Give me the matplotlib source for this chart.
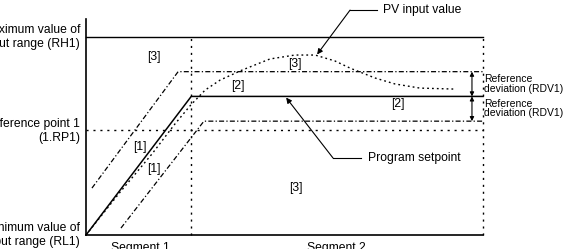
import matplotlib
matplotlib.use("Agg")
import matplotlib.pyplot as plt

plt.rcParams['font.family'] = ['Liberation Sans', 'DejaVu Sans']

# data (time 0-100, value 0-100 with RL1=0 and RH1=100)
seg_end = 26.5
t_end = 100
sp = 70.0
rdv = 12.5
rp1 = 53.0
rh1 = 100.0

sp_t = [0, seg_end, t_end]
sp_v = [0, sp, sp]

upper_t = [1.5, 23.2, t_end]
upper_v = [23.7, sp + rdv, sp + rdv]

lower_t = [8.8, 29.7, t_end]
lower_v = [3.5, sp - rdv, sp - rdv]

pv_t = [0, 8.6, 16.6, 22.4, 26.4, 30.0, 33.8, 39.3, 46.3, 52.6, 57.7,
        62.7, 66.5, 72.8, 77.8, 84.1, 93.0]
pv_v = [0, 21.7, 40.9, 56.1, 65.7, 73.2, 78.3, 83.3, 88.9, 90.9, 90.9,
        87.9, 84.3, 79.3, 76.3, 74.2, 73.7]

area_labels = ["[3]", "[3]", "[2]", "[2]", "[1]", "[1]", "[3]"]
area_t = [17.1, 52.6, 38.3, 78.6, 13.6, 17.1, 52.9]
area_v = [89.9, 86.4, 75.3, 66.2, 44.4, 33.3, 23.7]

fig = plt.figure(figsize=(5.76, 2.49), dpi=100)
ax = fig.add_axes([0, 0, 1, 1])
ax.set_xlim(-21.66, 123.4)
ax.set_ylim(-7.07, 118.7)
ax.axis('off')

k = 'black'
# axes lines
ax.plot([0, 0], [0, 109], color=k, lw=1.2)
ax.plot([0, t_end], [0, 0], color=k, lw=1.2)
ax.plot([0, t_end], [rh1, rh1], color=k, lw=1.0)

# dotted guides
dot = dict(color=k, lw=1.0, dashes=(1.5, 3.5))
ax.plot([seg_end, seg_end], [0, rh1], **dot)
ax.plot([t_end, t_end], [0, rh1], **dot)
ax.plot([0, t_end], [rp1, rp1], **dot)

# program setpoint and deviation band
ax.plot(sp_t, sp_v, color=k, lw=1.1)
dd = dict(color=k, lw=0.9, dashes=(4, 1.8, 1, 1.8))
ax.plot(upper_t, upper_v, **dd)
ax.plot(lower_t, lower_v, **dd)

# PV input
ax.plot(pv_t, pv_v, color=k, lw=1.0, dashes=(1.3, 2.2))

fs = 8.7
for s, x, y in zip(area_labels, area_t, area_v):
    ax.text(x, y, s, ha='center', va='center', fontsize=fs)

# left labels
ax.text(-1.5, rh1, "Maximum value of\ninput range (RH1)", ha='right', va='center',
        multialignment='right', fontsize=fs, linespacing=1.2)
ax.text(-1.5, rp1 - 0.5, "Reference point 1\n(1.RP1)", ha='right', va='center',
        multialignment='right', fontsize=fs, linespacing=1.2)
ax.text(-1.5, 0, "Minimum value of\ninput range (RL1)", ha='right', va='center',
        multialignment='right', fontsize=fs, linespacing=1.2)

ax.text(13.6, -3.6, "Segment 1", ha='center', va='top', fontsize=fs)
ax.text(63.0, -3.6, "Segment 2", ha='center', va='top', fontsize=fs)

# callouts
ax.text(74.8, 113.6, "PV input value", ha='left', va='center', fontsize=fs)
ax.plot([73.3, 66.5], [113.6, 113.6], color=k, lw=0.8)
ax.annotate("", xy=(58.2, 91.2), xytext=(66.5, 113.6),
            arrowprops=dict(arrowstyle='-|>', color=k, lw=0.8, mutation_scale=8,
                            shrinkA=0, shrinkB=0))
ax.text(71.0, 38.9, "Program setpoint", ha='left', va='center', fontsize=fs)
ax.plot([69.3, 62.2], [38.9, 38.9], color=k, lw=0.8)
ax.annotate("", xy=(50.4, 69.4), xytext=(62.2, 38.9),
            arrowprops=dict(arrowstyle='-|>', color=k, lw=0.8, mutation_scale=8,
                            shrinkA=0, shrinkB=0))

# reference deviation arrows
for lo, hi in [(sp, sp + rdv), (sp - rdv, sp)]:
    ax.annotate("", xy=(97.2, lo), xytext=(97.2, hi),
                arrowprops=dict(arrowstyle='<|-|>', color=k, lw=0.8, mutation_scale=6,
                                shrinkA=0, shrinkB=0))
ax.text(100.3, sp + rdv / 2, "Reference\ndeviation (RDV1)", ha='left', va='center',
        fontsize=7.5, linespacing=0.9)
ax.text(100.3, sp - rdv / 2, "Reference\ndeviation (RDV1)", ha='left', va='center',
        fontsize=7.5, linespacing=0.9)

fig.savefig("out.png", dpi=100)
